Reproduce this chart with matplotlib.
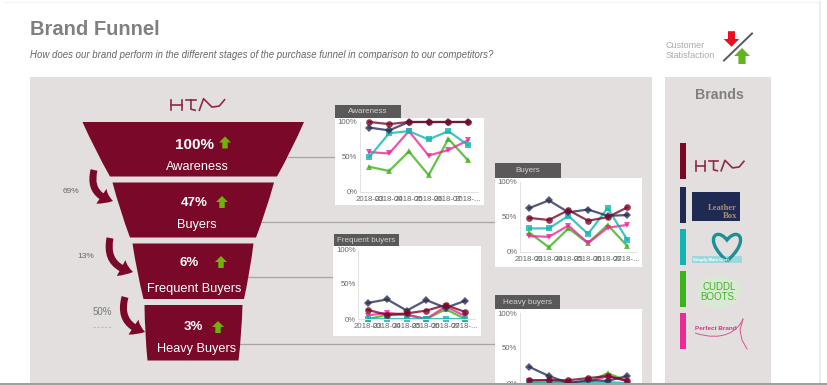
import matplotlib
matplotlib.use('Agg')
import matplotlib.pyplot as plt
from matplotlib.patches import Rectangle, Polygon, PathPatch, FancyArrowPatch, Ellipse
from matplotlib.path import Path

W, H = 827, 385
plt.rcParams['font.family'] = ['Liberation Sans', 'DejaVu Sans']

months = ['2018-03', '2018-04', '2018-05', '2018-06', '2018-07', '2018-...']

# share per brand
awareness_maroon = [100, 97, 100, 100, 100, 100]
awareness_navy = [92, 88, 100, 100, 100, 100]
awareness_teal = [50, 84, 87, 75, 87, 67]
awareness_pink = [57, 55, 87, 52, 60, 74]
awareness_green = [36, 30, 58, 24, 76, 45]

buyers_maroon = [48, 45, 59, 44, 49, 63]
buyers_navy = [62, 73, 56, 60, 51, 52]
buyers_teal = [33, 33, 51, 25, 62, 17]
buyers_pink = [22, 21, 37, 12, 34, 38]
buyers_green = [27, 6, 33, 12, 38, 8]

frequent_maroon = [13, 6, 8, 12, 20, 10]
frequent_navy = [23, 28, 12, 27, 16, 26]
frequent_teal = [0, 0, 0, 0, 0, 0]
frequent_pink = [5, 9, 6, 0, 18, 4]
frequent_green = [0, 6, 6, 0, 14, 0]

heavy_maroon = [4, 4, 4, 7, 10, 3]
heavy_navy = [23, 10, 0, 4, 3, 10]
heavy_teal = [0, 0, 0, 0, 1, 0]
heavy_pink = [3, 4, 1, 1, 10, 3]
heavy_green = [0, 0, 0, 1, 14, 3]

stage_names = ['Awareness', 'Buyers', 'Frequent Buyers', 'Heavy Buyers']
stage_pct = ['100%', '47%', '6%', '3%']
step_pct = ['69%', '13%', '50%']

MAROON = '#7a0829'
NAVY = '#2b2f55'
TEAL = '#14b4b0'
PINK = '#ec2a96'
GREEN = '#3eb21c'
PANEL = '#e3dfdf'
UP = '#6fb30a'

fig = plt.figure(figsize=(W / 100, H / 100), dpi=100, facecolor='white')
ax = fig.add_axes([0, 0, 1, 1], zorder=1)
ax.set_xlim(0, W)
ax.set_ylim(H, 0)
ax.axis('off')


def box(x0, y0, x1, y1, color, z=1):
    ax.add_patch(Rectangle((x0, y0), x1 - x0, y1 - y0, fc=color, ec='none', zorder=z))


def up_arrow(x, y, s, color=UP, down=False):
    d = -1 if down else 1
    pts = [(x, y - d * s), (x + s, y), (x + s * .45, y), (x + s * .45, y + d * s),
           (x - s * .45, y + d * s), (x - s * .45, y), (x - s, y)]
    ax.add_patch(Polygon(pts, fc=color, ec='none', zorder=5))


def htm_logo(x, y, s):
    # little hand drawn wordmark
    c = '#8c2a48'
    lw = 1.2
    ax.plot([x, x], [y - 5 * s, y + 5 * s], color=c, lw=lw, zorder=5)
    ax.plot([x + 10 * s, x + 10 * s], [y - 5 * s, y + 5 * s], color=c, lw=lw, zorder=5)
    ax.plot([x, x + 10 * s], [y, y], color=c, lw=lw, zorder=5)
    ax.plot([x + 14 * s, x + 24 * s], [y - 5 * s, y - 5 * s], color=c, lw=lw, zorder=5)
    ax.plot([x + 19 * s, x + 19 * s, x + 23 * s], [y - 5 * s, y + 4 * s, y + 5 * s], color=c, lw=lw, zorder=5)
    ax.plot([x + 27 * s, x + 31 * s, x + 39 * s, x + 46 * s, x + 51 * s],
            [y + 5 * s, y - 6 * s, y + 2 * s, y + 1 * s, y - 5 * s], color=c, lw=lw, zorder=5)


# page
ax.plot([5, 818], [2, 2], color='#f4f4f4', lw=1, zorder=0)
ax.plot([820, 820], [2, H], color='#ececec', lw=1.5, zorder=0)
box(30, 77, 652, H, PANEL)
box(665, 77, 771, H, PANEL)

ax.text(30, 29.5, 'Brand Funnel', fontsize=14.5, fontweight='bold', color='#808080', va='center')
ax.text(30, 55.5, 'How does our brand perform in the different stages of the purchase funnel in comparison to our competitors?',
        fontsize=6.9, style='italic', color='#666666', va='center')

# satisfaction key
ax.text(666, 45, 'Customer', fontsize=6.5, color='#aaaaaa', va='center')
ax.text(666, 56, 'Statisfaction', fontsize=6.5, color='#aaaaaa', va='center')
up_arrow(731.5, 39, 7.8, color='#e8101c', down=True)
up_arrow(742, 56, 8, color='#63b51f')
ax.plot([724, 752], [60.5, 33.5], color='#555a60', lw=1.4, zorder=6)

# funnel
funnel = [(82.5, 304, 110, 277, 122, 176.5), (112.5, 274, 130, 256, 182.5, 237.5),
          (132.5, 253.5, 143.5, 244, 243.5, 299), (144.5, 242.5, 147.5, 238.5, 305, 360.5)]
for x0, x1, x2, x3, yt, yb in funnel:
    ym = (yt + yb) / 2
    verts = [(x0, yt), (x1, yt), ((x1 + x3) / 2 + 1.2, ym + 1), (x3, yb), (x2, yb),
             ((x0 + x2) / 2 - 1.2, ym + 1), (x0, yt)]
    codes = [Path.MOVETO, Path.LINETO, Path.CURVE3, Path.CURVE3, Path.LINETO, Path.CURVE3, Path.CURVE3]
    ax.add_patch(PathPatch(Path(verts, codes), fc=MAROON, ec='none', zorder=3))

pct_pos = [(195, 145), (194, 203), (189, 263), (193, 327)]
pct_size = [11, 9.5, 9.5, 9.5]
arrow_pos = [(225, 142.5), (222, 202), (221, 262), (218, 327)]
name_pos = [(197, 167.5), (197, 225), (194, 289), (197, 349)]
for i in range(4):
    ax.text(*pct_pos[i], stage_pct[i], color='white', fontsize=pct_size[i], fontweight='bold', ha='center', va='center', zorder=5)
    ax.text(*name_pos[i], stage_names[i], color='white', fontsize=9.2, ha='center', va='center', zorder=5)
    up_arrow(*arrow_pos[i], 6)

htm_logo(171, 105, 1.05)

# curved step arrows
steps = [((94, 170), (113, 201)), ((110, 238), (133, 272)), ((125, 297), (145, 332))]
for a, b in steps:
    ax.add_patch(FancyArrowPatch(a, b, connectionstyle='arc3,rad=0.5',
                                 arrowstyle='simple,head_width=13,head_length=9,tail_width=5',
                                 fc=MAROON, ec='none', zorder=4, mutation_scale=1, shrinkA=0, shrinkB=0))
ax.text(71, 191.5, step_pct[0], fontsize=6, color='#666666', ha='center', va='center')
ax.text(86, 257, step_pct[1], fontsize=6, color='#666666', ha='center', va='center')
ax.text(102.5, 312, step_pct[2], fontsize=7, color='#777777', ha='center', va='center')
ax.plot([93, 112], [327, 327], color='#bbbbbb', lw=0.8, ls=(0, (2, 1.5)))

# connector lines
for x0, x1, y in [(288, 335, 156.5), (262, 495, 221.5), (247, 334, 277), (240, 495, 344)]:
    ax.plot([x0, x1], [y, y], color='#a8a4a4', lw=0.9, zorder=2)

# brands column
ax.text(719, 95, 'Brands', fontsize=10.2, fontweight='bold', color='#808080', ha='center', va='center')
bars = [(143, 179, MAROON), (187, 223, '#1f2a52'), (229, 265, TEAL), (271, 307, GREEN), (313, 349, PINK)]
for y0, y1, c in bars:
    box(680, y0, 686, y1, c, 3)

htm_logo(695.5, 166, 0.95)

box(692, 192, 739.5, 221, '#1f2a52', 3)
ax.text(737, 212, 'Leather\nBox', fontsize=6.2, fontweight='bold', family='Liberation Serif', color='#a8906c',
        ha='right', va='center', linespacing=0.95, zorder=5)

heart = [(727, 261), (703, 240), (716, 226), (727, 240), (738, 226), (751, 240), (727, 261)]
heart_codes = [Path.MOVETO, Path.CURVE4, Path.CURVE4, Path.CURVE4, Path.CURVE4, Path.CURVE4, Path.CURVE4]
box(692, 256, 742, 263, '#9fd8da', 3)
ax.add_patch(PathPatch(Path(heart, heart_codes), fc='none', ec='#1c8f97', lw=2.4, zorder=5))
ax.text(693, 259.5, 'Simply Mais Chat', fontsize=3.2, fontweight='bold', color='white', va='center', zorder=6)

ax.add_patch(Ellipse((719, 292), 44, 32, fc='#d9ead4', ec='none', zorder=3))
ax.text(719, 292, 'CUDDL\nBOOTS.', fontsize=7, color='#49b02a', ha='center', va='center', linespacing=0.95, zorder=5)

ax.text(695, 329, 'Perfect Brand', fontsize=4.6, fontweight='bold', color='#d6338f', va='center', zorder=5)
swoop = [(695, 333), (723, 342), (738, 331), (743, 319)]
swoop_codes = [Path.MOVETO, Path.CURVE4, Path.CURVE4, Path.CURVE4]
ax.add_patch(PathPatch(Path(swoop, swoop_codes), fc='none', ec='#d6558f', lw=0.7, zorder=5))
ax.plot([743, 740, 742, 747], [319, 330, 340, 349], color='#d6558f', lw=0.7, zorder=5)

# small charts
series_style = [(GREEN, '^', 4.5), (PINK, 'v', 4.5), (TEAL, 's', 5), (NAVY, 'D', 3.6), (MAROON, 'o', 4.8)]


def mini_chart(title, card, head, plot, series, xlabels=True):
    cx0, cy0, cx1, cy1 = card
    box(cx0, cy0, cx1, cy1, 'white', 2)
    box(*head, '#5a5858', 4)
    ax.text((head[0] + head[2]) / 2, (head[1] + head[3]) / 2, title, fontsize=5.8, color='#d4d4d4',
            ha='center', va='center', zorder=5)
    px0, py_top, px1, py_zero = plot
    a = fig.add_axes([px0 / W, 1 - py_zero / H, (px1 - px0) / W, (py_zero - py_top) / H], zorder=2)
    a.patch.set_alpha(0)
    for vals, (c, m, ms) in zip(series, series_style):
        a.plot(range(6), vals, color=c, lw=1.6, alpha=0.8, marker=m, ms=ms, mew=0, clip_on=False)
    a.set_xlim(-0.5, 5.5)
    a.set_ylim(0, 100)
    a.set_yticks([0, 50, 100], ['0%', '50%', '100%'])
    # the last chart runs off the screenshot before its month labels start
    a.set_xticks(range(6), months if xlabels else [])
    a.tick_params(axis='both', length=0, labelsize=5.6, labelcolor='#666666', pad=1.5)
    a.tick_params(axis='x', pad=3)
    for s in ['top', 'right']:
        a.spines[s].set_visible(False)
    for s in ['left', 'bottom']:
        a.spines[s].set_color('#e2e2e2')
        a.spines[s].set_linewidth(0.7)


mini_chart('Awareness', (335, 118, 484, 205), (335, 105, 401, 118), (359.5, 122, 478, 192),
           [awareness_green, awareness_pink, awareness_teal, awareness_navy, awareness_maroon])
mini_chart('Buyers', (495, 178, 642, 267), (495, 163, 561, 178), (519.5, 181.5, 637, 251.5),
           [buyers_green, buyers_pink, buyers_teal, buyers_navy, buyers_maroon])
mini_chart('Frequent buyers', (333, 246, 481, 336), (334, 234, 399, 246), (358, 249, 475, 319),
           [frequent_green, frequent_pink, frequent_teal, frequent_navy, frequent_maroon])
mini_chart('Heavy buyers', (495, 309, 642, H), (495, 295, 560, 309), (519.5, 313, 637, 383),
           [heavy_green, heavy_pink, heavy_teal, heavy_navy, heavy_maroon], xlabels=False)

# grey edge at the foot of the screenshot covers the rest of the last chart
top = fig.add_axes([0, 0, 1, 1], zorder=10)
top.set_xlim(0, W)
top.set_ylim(H, 0)
top.axis('off')
top.add_patch(Rectangle((0, 382.5), W, 3, fc='#a0a0a0', ec='none'))

fig.savefig('out.png', dpi=100, facecolor='white')
